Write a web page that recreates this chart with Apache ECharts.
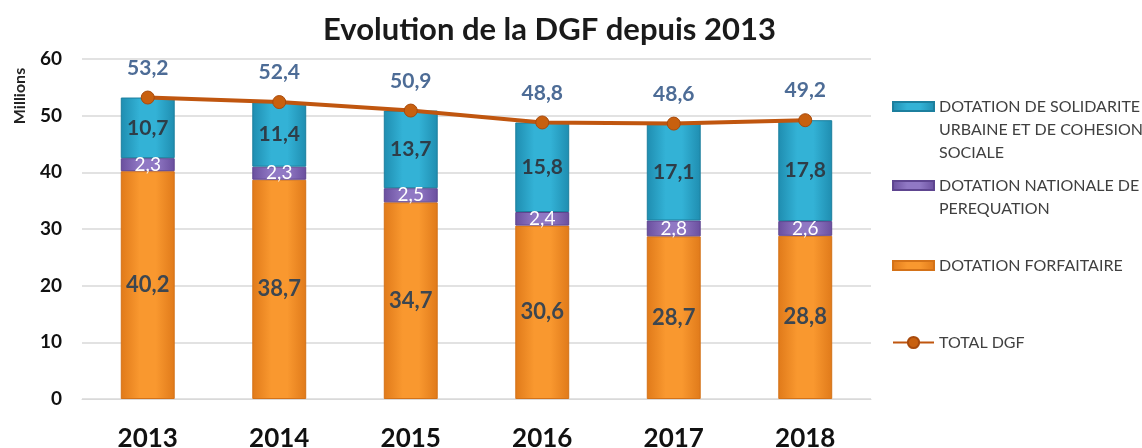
<!DOCTYPE html>
<html>
<head>
<meta charset="utf-8">
<script src="https://cdn.jsdelivr.net/npm/echarts@6/dist/echarts.min.js"></script>
<style>
  html, body { margin: 0; padding: 0; background: #fff; }
  #chart { width: 1142px; height: 448px; }
</style>
</head>
<body>
<div id="chart"></div>
<script>
const years = ['2013', '2014', '2015', '2016', '2017', '2018']
const forfaitaire = [40.2, 38.7, 34.7, 30.6, 28.7, 28.8]
const perequation = [2.3, 2.3, 2.5, 2.4, 2.8, 2.6]
const solidarite = [10.7, 11.4, 13.7, 15.8, 17.1, 17.8]
const totalDgf = [53.2, 52.4, 50.9, 48.8, 48.6, 49.2]

const NAME_DSU = 'DOTATION DE SOLIDARITE\nURBAINE ET DE COHESION\nSOCIALE'
const NAME_DNP = 'DOTATION NATIONALE DE\nPEREQUATION'
const NAME_DF = 'DOTATION FORFAITAIRE'
const NAME_TOT = 'TOTAL DGF'

const FONT = 'Lato, "Open Sans", sans-serif'
const LINE_H = 23

const comma = v => String(v).replace('.', ',')

function hGrad(edge, mid) {
  return new echarts.graphic.LinearGradient(0, 0, 1, 0, [
    { offset: 0, color: edge },
    { offset: 0.35, color: mid },
    { offset: 0.65, color: mid },
    { offset: 1, color: edge }
  ])
}

// rect icon drawn on the first text line of a multi-line legend entry
function topIcon(lines) {
  const h = lines * LINE_H
  const y0 = LINE_H / 2 - 4.5
  return 'path://M0,0 M0,' + y0 + ' L41,' + y0 + ' L41,' + (y0 + 9) + ' L0,' + (y0 + 9) + ' Z M41,' + h
}

const chart = echarts.init(document.getElementById('chart'))

const legendText = { color: '#404040', fontSize: 16, fontFamily: FONT, lineHeight: LINE_H }
const legendBase = {
  orient: 'vertical',
  left: 892,
  padding: 0,
  itemWidth: 41,
  selectedMode: false,
  textStyle: legendText
}

const option = {
  title: {
    text: 'Evolution de la DGF depuis 2013',
    left: 318,
    top: 9,
    textStyle: { fontSize: 31, fontWeight: 'bold', color: '#1a1a1a', fontFamily: FONT }
  },
  graphic: [{
    type: 'text',
    x: 12,
    y: 96,
    rotation: Math.PI / 2,
    style: {
      text: 'Millions', fontSize: 16, fontWeight: 'bold', fill: '#222', fontFamily: FONT,
      align: 'center', verticalAlign: 'top'
    }
  }],
  legend: [
    Object.assign({}, legendBase, { top: 94, itemHeight: 3 * LINE_H, data: [{ name: NAME_DSU, icon: topIcon(3) }] }),
    Object.assign({}, legendBase, { top: 173, itemHeight: 2 * LINE_H, data: [{ name: NAME_DNP, icon: topIcon(2) }] }),
    Object.assign({}, legendBase, { top: 253, itemHeight: LINE_H, data: [{ name: NAME_DF, icon: topIcon(1) }] }),
    Object.assign({}, legendBase, { top: 331, itemHeight: 14, data: [{ name: NAME_TOT }] })
  ],
  grid: { left: 82, right: 271, top: 59, bottom: 49, outerBoundsMode: 'none' },
  xAxis: {
    type: 'category',
    data: years,
    axisTick: { show: false },
    axisLine: { lineStyle: { color: '#d9d9d9' } },
    axisLabel: { color: '#111', fontSize: 26, fontWeight: 'bold', margin: 27, fontFamily: FONT }
  },
  yAxis: {
    type: 'value',
    min: 0,
    max: 60,
    interval: 10,
    axisLabel: { color: '#111', fontSize: 19, fontWeight: 'bold', margin: 20, fontFamily: FONT },
    splitLine: { lineStyle: { color: '#d9d9d9', width: 1.5 } }
  },
  series: [
    {
      name: NAME_DF,
      type: 'bar',
      stack: 'dgf',
      data: forfaitaire,
      barWidth: '41%',
      itemStyle: { color: hGrad('#e07a1a', '#f9982f'), borderColor: '#d47218', borderWidth: 1 },
      label: {
        show: true, position: 'inside', formatter: p => comma(p.value),
        color: '#3c4650', fontSize: 22, fontWeight: 'bold', fontFamily: FONT
      }
    },
    {
      name: NAME_DNP,
      type: 'bar',
      stack: 'dgf',
      data: perequation,
      itemStyle: { color: hGrad('#6a4f9e', '#9078c4'), borderColor: '#5e4590', borderWidth: 1 },
      label: {
        show: true, position: 'inside', formatter: p => comma(p.value),
        color: '#ffffff', fontSize: 19, fontFamily: FONT
      }
    },
    {
      name: NAME_DSU,
      type: 'bar',
      stack: 'dgf',
      data: solidarite,
      itemStyle: { color: hGrad('#1f8db0', '#33b2d6'), borderColor: '#1c7f9e', borderWidth: 1 },
      label: {
        show: true, position: 'inside', formatter: p => comma(p.value),
        color: '#2e3d48', fontSize: 21, fontWeight: 'bold', fontFamily: FONT
      }
    },
    {
      name: NAME_TOT,
      type: 'line',
      data: totalDgf,
      symbol: 'circle',
      symbolSize: 13,
      lineStyle: { color: '#c0560f', width: 4 },
      itemStyle: { color: '#c8600f', borderColor: '#a84a0c', borderWidth: 1 },
      label: {
        show: true, position: 'top', distance: 12, formatter: p => comma(p.value),
        color: '#4d6c96', fontSize: 21, fontWeight: 'bold', fontFamily: FONT
      },
      z: 5
    }
  ]
}

chart.setOption(option)
</script>
</body>
</html>
